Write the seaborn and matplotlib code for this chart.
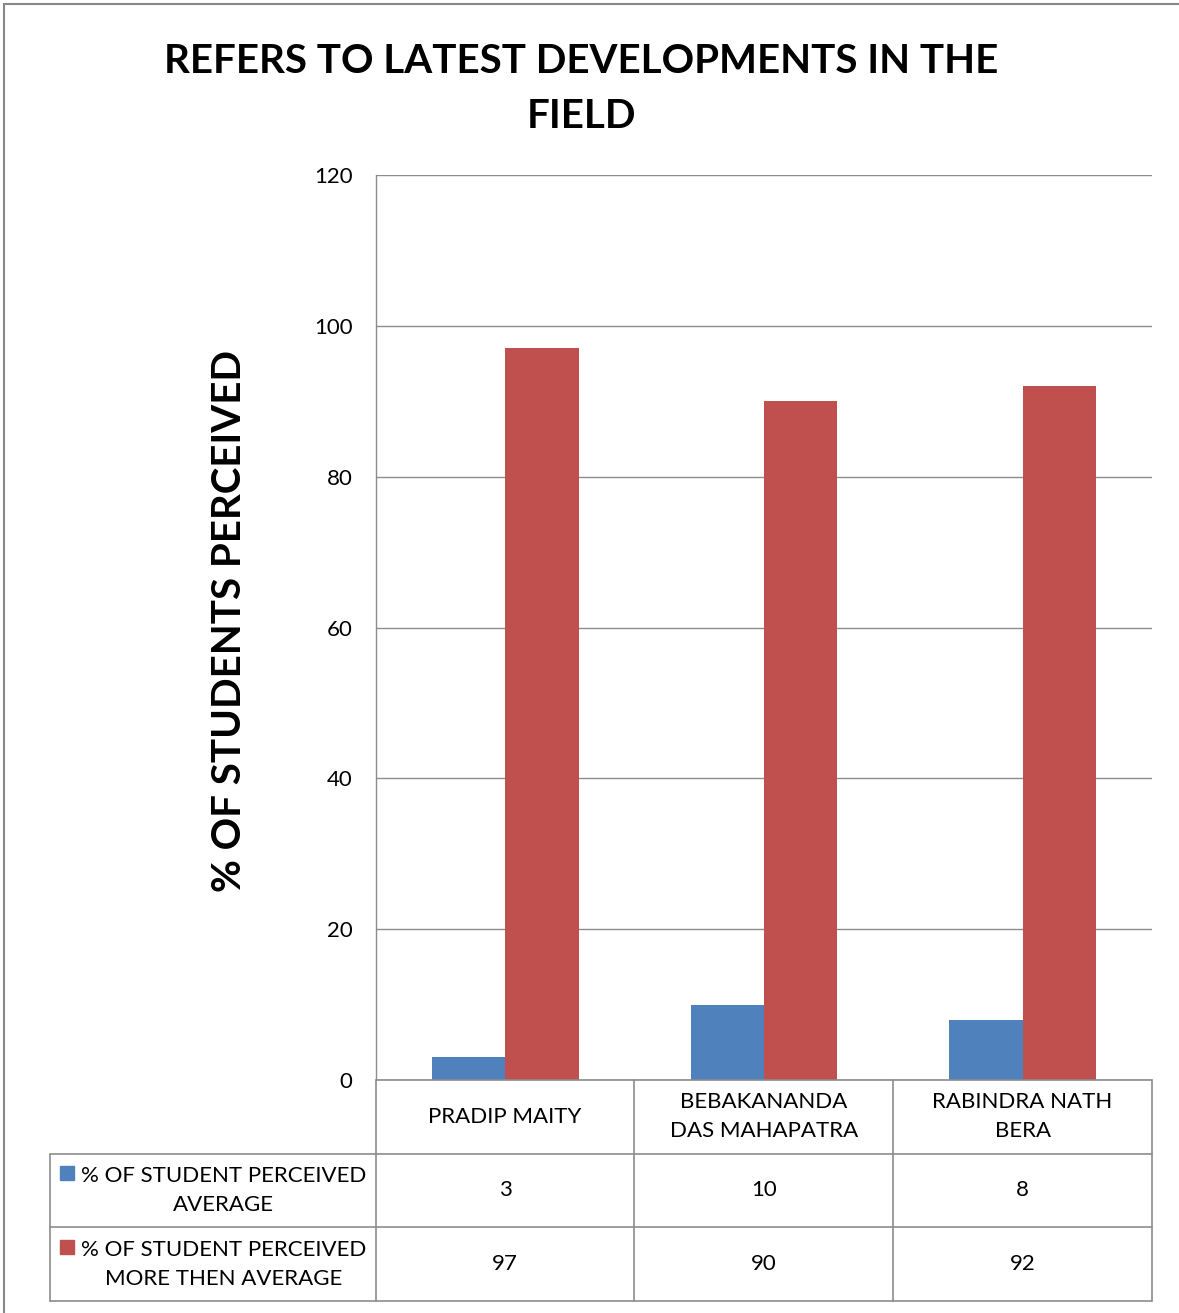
import pandas as pd
import seaborn as sns
import matplotlib.pyplot as plt
from matplotlib.patches import Rectangle

# data
names = ["PRADIP MAITY", "BEBAKANANDA\nDAS MAHAPATRA", "RABINDRA NATH\nBERA"]
series = ["% OF STUDENT PERCEIVED\nAVERAGE", "% OF STUDENT PERCEIVED\nMORE THEN AVERAGE"]
avg_vals = [3, 10, 8]
more_vals = [97, 90, 92]
colors = ["#4F81BD", "#C0504D"]
yticks = [0, 20, 40, 60, 80, 100, 120]

df = pd.DataFrame({
    "name": names * 2,
    "series": [series[0]] * 3 + [series[1]] * 3,
    "value": avg_vals + more_vals,
})

sns.set_style("white")
plt.rcParams['font.family'] = ['Lato', 'DejaVu Sans']
plt.rcParams['text.color'] = 'black'
plt.rcParams['ytick.color'] = 'black'
plt.rcParams['ytick.labelcolor'] = 'black'
grid_col = "#8C8C8C"

W, H = 1179, 1313
fig = plt.figure(figsize=(W / 100, H / 100), dpi=100)

# plot area
ax = fig.add_axes([376 / W, 1 - 1080 / H, 776 / W, 905 / H])
sns.barplot(data=df, x="name", y="value", hue="series", palette=colors,
            width=0.567, gap=0, saturation=1, legend=False, linewidth=0, ax=ax)
ax.set_ylim(0, 120)
ax.set_xlim(-0.5, 2.5)
ax.set_yticks(yticks)
ax.yaxis.grid(True, color=grid_col, linewidth=1)
ax.set_axisbelow(True)
ax.tick_params(axis='y', length=0, pad=17, labelsize=16)
ax.set_xticks([])
ax.set_xlabel("")
ax.set_ylabel("")
for s in ["top", "right", "bottom"]:
    ax.spines[s].set_visible(False)
ax.spines["left"].set_color(grid_col)
ax.spines["left"].set_linewidth(1)

# data table under the plot
left_w = 326 / 259
tx = fig.add_axes([50 / W, 1 - 1301 / H, 1102 / W, 221 / H])
xmin = -0.5 - left_w
tx.set_xlim(xmin, 2.5)
tx.set_ylim(3, 0)
tx.axis("off")
lw = 1.2
for xv in [-0.5, 0.5, 1.5, 2.5]:
    tx.plot([xv, xv], [0, 3], color=grid_col, lw=lw, clip_on=False)
tx.plot([xmin, xmin], [1, 3], color=grid_col, lw=lw, clip_on=False)
tx.plot([-0.5, 2.5], [0, 0], color=grid_col, lw=lw, clip_on=False)
for yv in [1, 2, 3]:
    tx.plot([xmin, 2.5], [yv, yv], color=grid_col, lw=lw, clip_on=False)

fs = 16
ls = 1.55
for i, n in enumerate(names):
    tx.text(i, 0.5, n, ha="center", va="center", fontsize=fs,
            multialignment="center", linespacing=ls)
    tx.text(i, 1.5, str(avg_vals[i]), ha="center", va="center", fontsize=fs)
    tx.text(i, 2.5, str(more_vals[i]), ha="center", va="center", fontsize=fs)

text_cx = xmin + (224 - 50) / 259
sq_x = xmin + (60 - 50) / 259
for r, (lab, c) in enumerate(zip(series, colors)):
    tx.text(text_cx, 1.5 + r, lab, ha="center", va="center", fontsize=fs,
            multialignment="center", linespacing=ls)
    tx.add_patch(Rectangle((sq_x, 1.5 + r - 0.33), 14 / 259, 0.19, color=c))

# title and y label
fig.text(581 / W, 1 - 89 / H, "REFERS TO LATEST DEVELOPMENTS IN THE\nFIELD",
         ha="center", va="center", fontsize=29, fontweight="bold", linespacing=1.6)
fig.text(230 / W, 1 - 621 / H, "% OF STUDENTS PERCEIVED", rotation=90,
         ha="center", va="center", fontsize=29, fontweight="bold")

# outer chart border
fig.patches.append(Rectangle((4 / W, -0.1), 1.2, 1 - 4 / H + 0.1,
                             transform=fig.transFigure, fill=False,
                             edgecolor="#888888", linewidth=1.5))

fig.savefig("out.png", dpi=100)
